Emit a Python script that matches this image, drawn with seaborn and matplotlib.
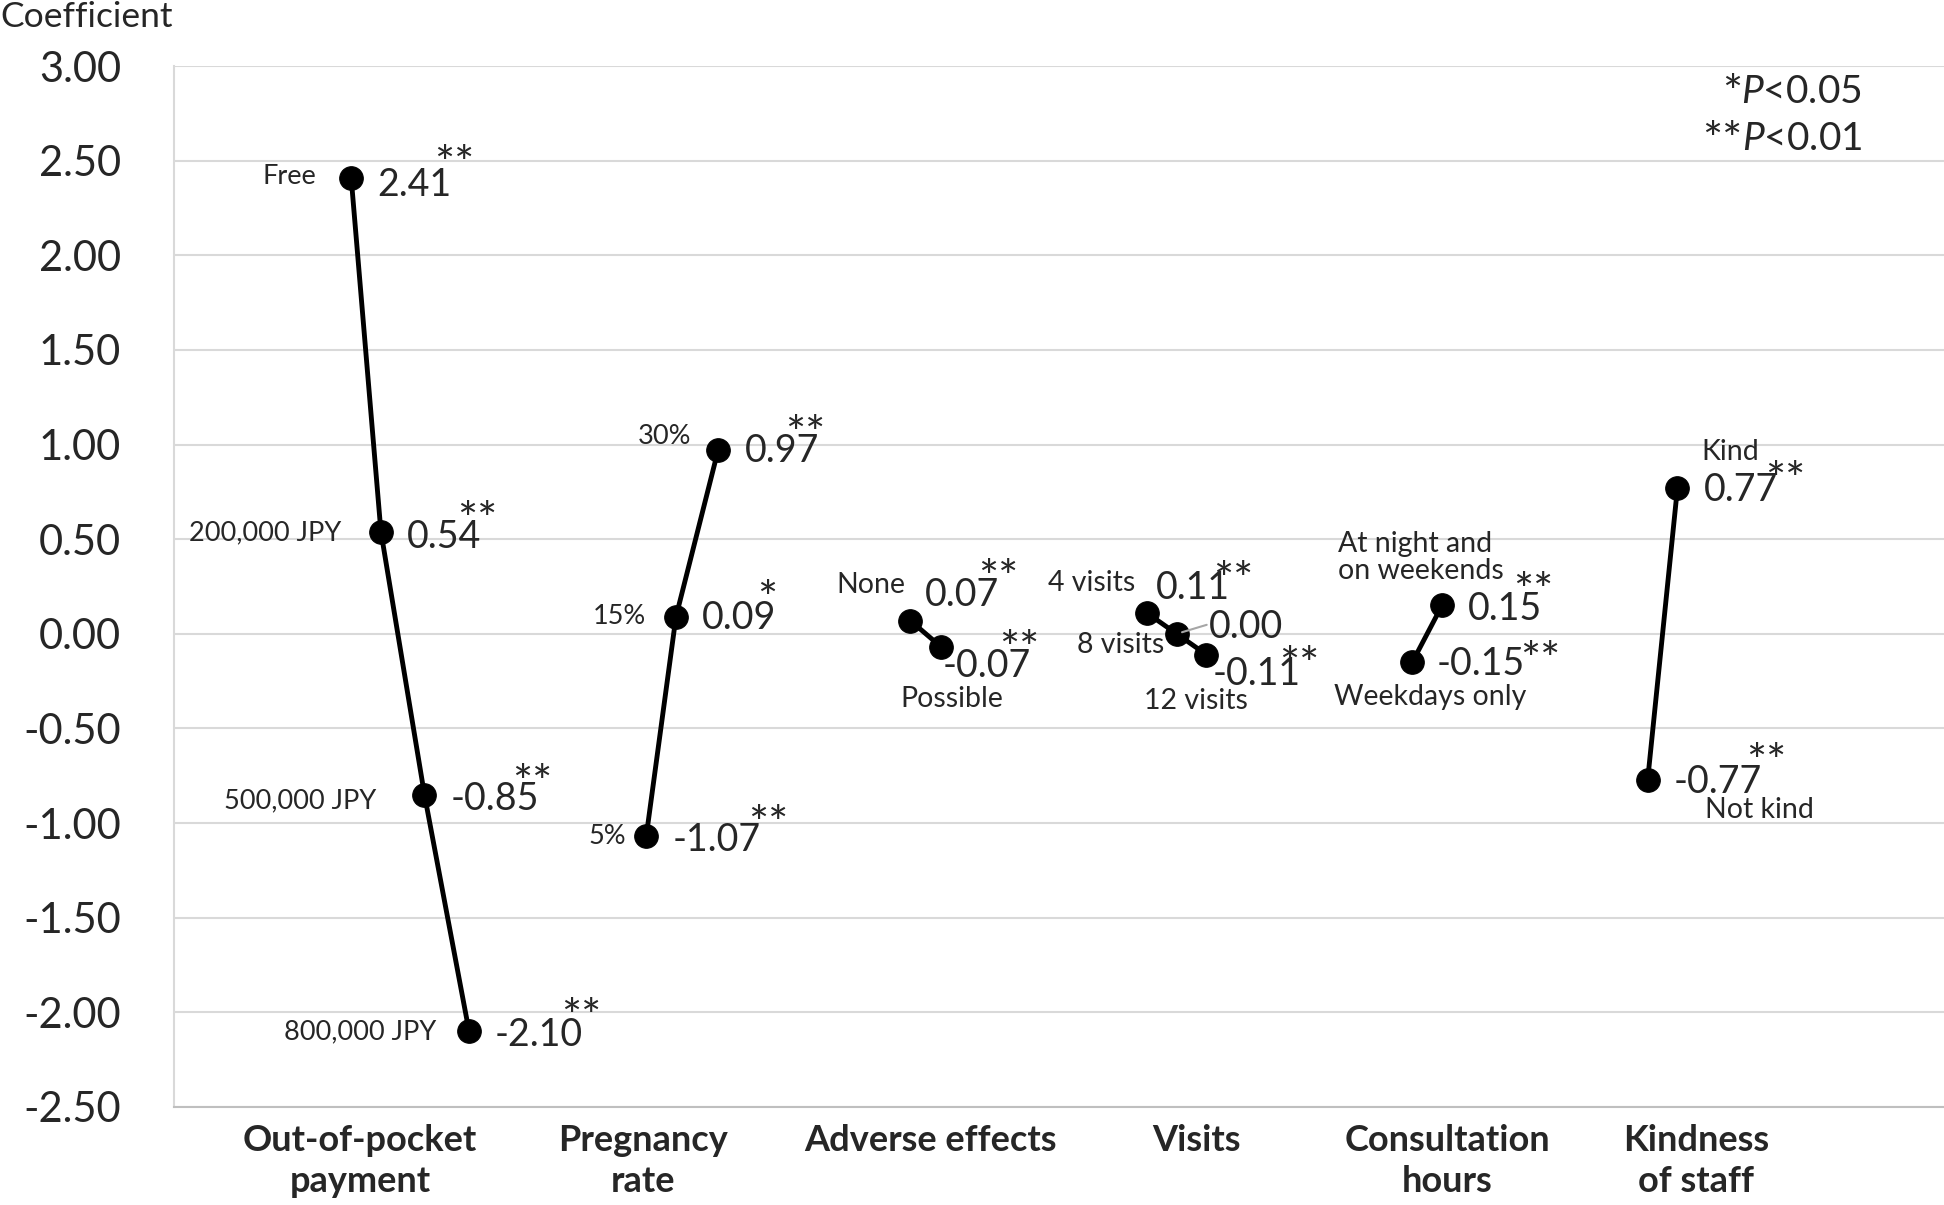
import numpy as np
import pandas as pd
import matplotlib
matplotlib.use('Agg')
import matplotlib.pyplot as plt
from matplotlib.ticker import FormatStrFormatter
import seaborn as sns

sns.set_style('white')
plt.rcParams.update({
    'font.family': ['Lato', 'DejaVu Sans'],
    'mathtext.fontset': 'custom',
    'mathtext.rm': 'Lato',
    'mathtext.it': 'Lato:italic',
    'axes.unicode_minus': False,
})

# attributes (x-axis groups)
attributes = ['Out-of-pocket\npayment', 'Pregnancy\nrate', 'Adverse effects',
              'Visits', 'Consultation\nhours', 'Kindness\nof staff']
attr_pos = [10.5, 26.47, 42.72, 57.77, 71.92, 86.0]

# levels and coefficients
levels = ['Free', '200,000 JPY', '500,000 JPY', '800,000 JPY',
          '5%', '15%', '30%',
          'None', 'Possible',
          '4 visits', '8 visits', '12 visits',
          'Weekdays only', 'At night and\non weekends',
          'Not kind', 'Kind']
level_attr = [0, 0, 0, 0, 1, 1, 1, 2, 2, 3, 3, 3, 4, 4, 5, 5]
level_x = [10.01, 11.69, 14.15, 16.67,
           26.68, 28.36, 30.74,
           41.60, 43.35,
           54.97, 56.65, 58.33,
           69.96, 71.64,
           83.26, 84.94]
coef = [2.41, 0.54, -0.85, -2.10,
        -1.07, 0.09, 0.97,
        0.07, -0.07,
        0.11, 0.00, -0.11,
        -0.15, 0.15,
        -0.77, 0.77]
stars = ['**', '**', '**', '**',
         '**', '*', '**',
         '**', '**',
         '**', '', '**',
         '**', '**',
         '**', '**']
sig_notes = [('*', '$P$<0.05'), ('**', '$P$<0.01')]

df = pd.DataFrame({'attr': level_attr, 'x': level_x, 'coef': coef})

# label placement (offset pixels from marker)
lab_off = [(-35, 1), (-40, -1), (-48, -6), (-33, -1),
           (-20, 0), (-30, 0), (-27, 14),
           (-5, 36), (11, -52),
           (-12, 30), (-12, -11), (-11, -46),
           (-78, -35), (-104, 48),
           (57, -30), (24, 36)]
lab_ha = ['right'] * 7 + ['right', 'center', 'right', 'right', 'center',
                          'left', 'left', 'left', 'left']
lab_size = [19.5] * 7 + [20.5] * 9
val_off = [(26, -7), (26, -5), (26, -4), (26, -4),
           (26, -4), (26, -1), (27, -1),
           (15, 26), (1, -19),
           (9, 25), (32, 7), (6, -19),
           (24, -2), (26, -4),
           (26, -2), (26, -2)]
star_off = [(83, 12), (76, 10), (88, 10), (92, 12),
            (102, 10), (81, 16), (67, 14),
            (68, 41), (58, -4),
            (66, 31), (0, 0), (73, -12),
            (108, 0), (71, 12),
            (98, 16), (88, 6)]

fig = plt.figure(figsize=(19.44, 12.05), dpi=100)
ax = fig.add_axes([174 / 1944, 98 / 1205, 1770 / 1944, 1041 / 1205])

sns.lineplot(data=df, x='x', y='coef', units='attr', estimator=None, sort=False,
             color='black', lw=3.5, marker='o', markersize=17,
             markeredgecolor='black', ax=ax, zorder=3)

ax.set_xlim(0, 100)
ax.set_ylim(-2.5, 3.0)
ax.set_yticks(np.arange(-2.5, 3.01, 0.5))
ax.yaxis.set_major_formatter(FormatStrFormatter('%.2f'))
ax.grid(axis='y', color='#d9d9d9', lw=1.5)
ax.grid(axis='x', visible=False)
ax.set_xticks(attr_pos)
ax.set_xticklabels(attributes, fontsize=26, fontweight='bold', linespacing=1.3)
ax.tick_params(axis='x', length=0, pad=12)
ax.tick_params(axis='y', length=0, pad=38, labelsize=30)
ax.set_xlabel('')
ax.set_ylabel('')
for s in ['top', 'right']:
    ax.spines[s].set_visible(False)
ax.spines['left'].set_color('#d9d9d9')
ax.spines['left'].set_linewidth(1.5)
ax.spines['bottom'].set_color('#bfbfbf')
ax.spines['bottom'].set_linewidth(1.5)

for i in range(len(levels)):
    p = (level_x[i], coef[i])
    ax.annotate(levels[i], p, xytext=lab_off[i], textcoords='offset pixels',
                ha=lab_ha[i], va='center', fontsize=lab_size[i], linespacing=1.05)
    ax.annotate(f'{coef[i]:.2f}', p, xytext=val_off[i], textcoords='offset pixels',
                ha='left', va='center', fontsize=27)
    if stars[i]:
        ax.annotate(stars[i], p, xytext=star_off[i], textcoords='offset pixels',
                    ha='left', va='center', fontsize=34)

# leader line for reference level 0.00
ax.annotate('', (level_x[10], coef[10]), xytext=(30, 9), textcoords='offset pixels',
            arrowprops=dict(arrowstyle='-', color='#a6a6a6', lw=1.5, shrinkA=0, shrinkB=4))

fig.text(0.0, 1 - 17 / 1205, 'Coefficient', fontsize=25.5, ha='left', va='center')

# significance note, top right
renderer = fig.canvas.get_renderer()
for k, (st, txt) in enumerate(sig_notes):
    y = 1 - (92 + 47 * k) / 1205
    t = fig.text(1862 / 1944, y, txt, fontsize=28, ha='right', va='center')
    bb = t.get_window_extent(renderer)
    fig.text(bb.x0 / 1944 + 1 / 1944, y - 3 / 1205, st, fontsize=34, ha='right', va='center')

fig.savefig('out.png', dpi=100)
